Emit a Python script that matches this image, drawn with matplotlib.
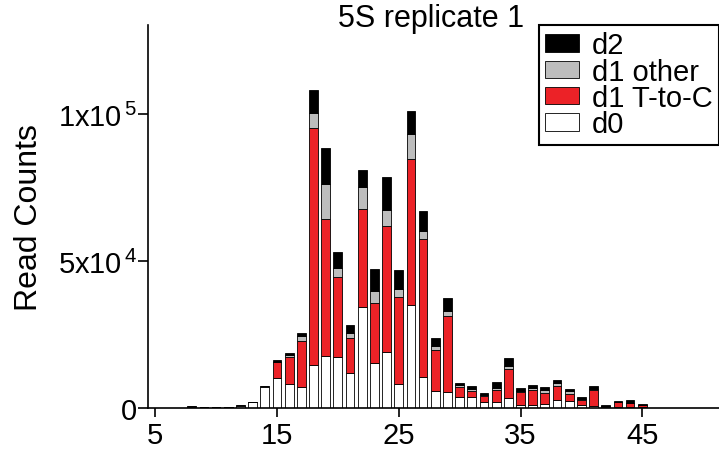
import matplotlib
matplotlib.use('Agg')
import matplotlib.pyplot as plt
import numpy as np

plt.rcParams['font.family'] = ['Liberation Sans', 'DejaVu Sans']
plt.rcParams['mathtext.default'] = 'regular'

# read length (nt)
lengths = list(range(5, 51))

# read counts per category, lengths 5..50
d0 = [0, 0, 0, 200, 250, 250, 250, 650, 1800, 7100,
      10200, 7900, 7100, 14500, 17700, 17200, 11800, 34300, 15200, 18800,
      8000, 34900, 10500, 5600, 5200, 3700, 3700, 2000, 1800, 3100,
      850, 850, 1200, 2500, 2300, 1000, 500, 100, 100, 150,
      100, 0, 0, 0, 0, 0]
d1_tc = [0, 0, 0, 0, 0, 0, 0, 0, 0, 0,
         5200, 9500, 15500, 80800, 46500, 27200, 11800, 33500, 20600, 43300,
         29600, 50000, 46900, 14100, 26100, 3300, 2000, 1800, 4300, 10200,
         4500, 5100, 3700, 5000, 2500, 1600, 5500, 450, 1700, 1500,
         750, 0, 0, 0, 0, 0]
d1_other = [0, 0, 0, 200, 0, 0, 0, 200, 200, 300,
            300, 700, 1900, 5100, 11900, 3300, 1900, 7500, 3900, 5300,
            2700, 8500, 2800, 1300, 1500, 800, 700, 450, 600, 900,
            300, 600, 1000, 900, 800, 250, 250, 0, 0, 0,
            0, 0, 0, 0, 0, 0]
d2 = [0, 0, 0, 0, 50, 50, 50, 0, 0, 0,
      500, 450, 900, 7950, 12400, 5500, 2600, 5900, 7400, 11200,
      6600, 7800, 6800, 2800, 4500, 700, 900, 800, 2000, 2700,
      1000, 1100, 1000, 1000, 700, 800, 1100, 300, 450, 900,
      250, 0, 0, 0, 0, 0]

x = np.array(lengths)
b1 = np.array(d0)
b2 = b1 + np.array(d1_tc)
b3 = b2 + np.array(d1_other)

fig = plt.figure(figsize=(7.19, 4.56), dpi=100)
ax = fig.add_axes([0.206, 0.104, 0.794, 0.839])

w = 0.72
kw = dict(width=w, edgecolor='black', linewidth=0.6)
p0 = ax.bar(x, d0, color='white', **kw)
p1 = ax.bar(x, d1_tc, bottom=b1, color='#ec2227', **kw)
p2 = ax.bar(x, d1_other, bottom=b2, color='#bdbdbd', **kw)
p3 = ax.bar(x, d2, bottom=b3, color='black', **kw)

ax.set_xlim(4.42, 51.3)
ax.set_ylim(0, 130500)
ax.set_xticks([5, 15, 25, 35, 45])
ax.set_yticks([0, 50000, 100000])
ax.set_yticklabels(['0', '5x10$^{\\,4}$', '1x10$^{\\,5}$'])
ax.tick_params(axis='both', labelsize=21, width=1.2, color='black')
ax.tick_params(axis='x', length=6.5, direction='out', pad=3)
ax.tick_params(axis='y', length=7, direction='out', pad=1)

for s in ['top', 'right']:
    ax.spines[s].set_visible(False)
for s in ['left', 'bottom']:
    ax.spines[s].set_linewidth(1.2)

ax.set_ylabel('Read Counts', fontsize=23, labelpad=10)
# title placed by hand so the legend does not push it up
fig.text(431 / 719, 1 - 27 / 456, '5S replicate 1', fontsize=22,
         ha='center', va='baseline')

leg = ax.legend([p3, p2, p1, p0], ['d2', 'd1 other', 'd1 T-to-C', 'd0'],
                loc='upper right', bbox_to_anchor=(1.0, 1.0), borderaxespad=0,
                fontsize=21, fancybox=False, frameon=True, labelspacing=-0.06,
                borderpad=0.22, handletextpad=0.45, handlelength=1.15,
                handleheight=0.55)
leg.get_frame().set_edgecolor('black')
leg.get_frame().set_linewidth(1.5)
leg.get_frame().set_alpha(1)

fig.savefig('out.png', dpi=100)
